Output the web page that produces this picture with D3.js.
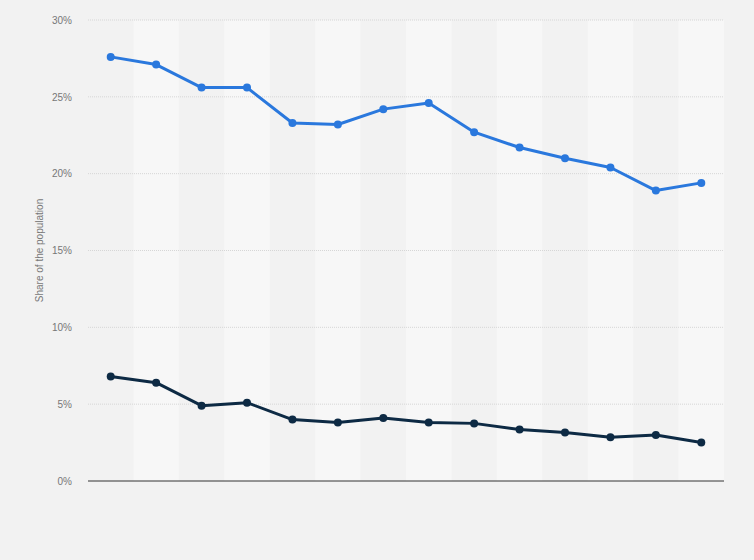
<!doctype html>
<html lang="en">
<head>
    <meta charset="UTF-8">
    <title>Share of the population</title>
    <style>
        body { margin: 0; background: #f2f2f2; }
        svg { display: block; font-family: Arial, "Liberation Sans", sans-serif; }
        .tick text { fill: #777; font-size: 10px; }
        .grid line { stroke: #d6d6d6; stroke-dasharray: 1,1; }
    </style>
</head>
<body>
<div class="chart"></div>
<script src="https://d3js.org/d3.v7.min.js"></script>
<script>
    // one point per period, no x labels shown in the original
    const periods = ['1', '2', '3', '4', '5', '6', '7', '8', '9', '10', '11', '12', '13', '14']
    const seriesBlue = [27.6, 27.1, 25.6, 25.6, 23.3, 23.2, 24.2, 24.6, 22.7, 21.7, 21.0, 20.4, 18.9, 19.4]
    const seriesDark = [6.8, 6.4, 4.9, 5.1, 4.0, 3.8, 4.1, 3.8, 3.75, 3.35, 3.15, 2.85, 3.0, 2.5]
    const yTicks = [0, 5, 10, 15, 20, 25, 30]

    const width = 754, height = 560
    const margin = { top: 20, right: 30, bottom: 79, left: 88 }
    const innerW = width - margin.left - margin.right
    const innerH = height - margin.top - margin.bottom

    const svg = d3.select('.chart')
        .append('svg')
        .attr('width', width)
        .attr('height', height)

    svg.append('rect')
        .attr('width', width)
        .attr('height', height)
        .attr('fill', '#f2f2f2')

    const g = svg.append('g')
        .attr('transform', 'translate(' + margin.left + ',' + margin.top + ')')

    const x = d3.scaleBand()
        .domain(periods)
        .range([0, innerW])

    const y = d3.scaleLinear()
        .domain([0, 30])
        .range([innerH, 0])

    // alternating column bands
    g.append('g')
        .selectAll('rect')
        .data(periods.filter((d, i) => i % 2 === 1))
        .enter().append('rect')
        .attr('x', d => x(d))
        .attr('y', 0)
        .attr('width', x.bandwidth())
        .attr('height', innerH)
        .attr('fill', '#f7f7f7')

    // gridlines
    g.append('g')
        .attr('class', 'grid')
        .selectAll('line')
        .data(yTicks.filter(d => d > 0))
        .enter().append('line')
        .attr('x1', 0)
        .attr('x2', innerW)
        .attr('y1', d => y(d))
        .attr('y2', d => y(d))

    // y axis labels
    const yAxis = d3.axisLeft(y)
        .tickValues(yTicks)
        .tickFormat(d => d + '%')
        .tickSize(0)
        .tickPadding(16)
    const yg = g.append('g').call(yAxis)
    yg.select('.domain').remove()

    // baseline
    g.append('line')
        .attr('x1', 0)
        .attr('x2', innerW)
        .attr('y1', y(0))
        .attr('y2', y(0))
        .attr('stroke', '#333')
        .attr('stroke-width', 1)

    svg.append('text')
        .attr('transform', 'translate(43,' + (margin.top + innerH / 2) + ') rotate(-90)')
        .attr('text-anchor', 'middle')
        .attr('fill', '#777')
        .style('font-size', '10px')
        .text('Share of the population')

    const cx = (d, i) => x(periods[i]) + x.bandwidth() / 2
    const line = d3.line()
        .x(cx)
        .y(d => y(d))

    const series = [
        { values: seriesBlue, color: '#2a78dd' },
        { values: seriesDark, color: '#0d2a44' }
    ]

    series.forEach(function(s) {
        g.append('path')
            .datum(s.values)
            .attr('fill', 'none')
            .attr('stroke', s.color)
            .attr('stroke-width', 3)
            .attr('stroke-linejoin', 'round')
            .attr('d', line)
        g.append('g')
            .selectAll('circle')
            .data(s.values)
            .enter().append('circle')
            .attr('cx', cx)
            .attr('cy', d => y(d))
            .attr('r', 4)
            .attr('fill', s.color)
    })
</script>
</body>
</html>
